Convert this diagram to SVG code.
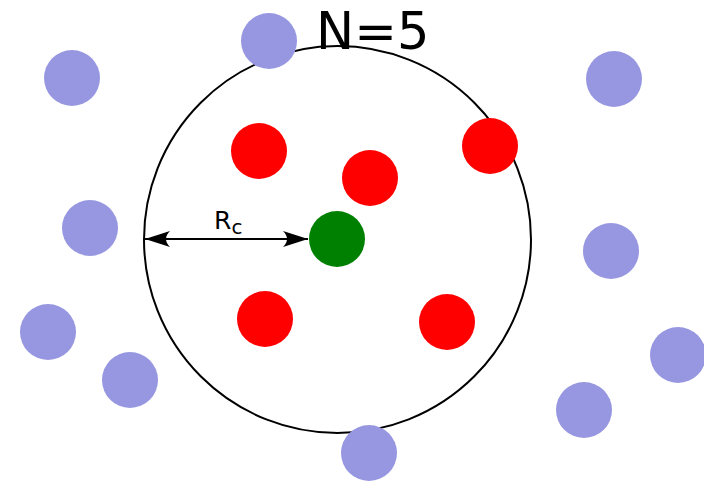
<svg xmlns="http://www.w3.org/2000/svg" width="704" height="481" viewBox="0 0 704 481">
<style>
.b{fill:#9797e1}
.r{fill:#ff0000}
.g{fill:#008000}
text{font-family:"DejaVu Sans",sans-serif;fill:#000}
</style>
<defs>
<marker id="ah" viewBox="-27 -9 29 18" refX="0" refY="0" markerWidth="29" markerHeight="18" markerUnits="userSpaceOnUse" orient="auto-start-reverse">
<path d="M0,0 L-25,-8 Q-17,0 -25,8 Z" fill="#000"/>
</marker>
</defs>
<rect width="704" height="481" fill="#fff"/>
<g id="boundary"><circle cx="337.5" cy="239.5" r="193.5" fill="none" stroke="#000" stroke-width="2"/></g>
<g id="connectors">
<line x1="145" y1="239" x2="308" y2="239" stroke="#000" stroke-width="2" marker-start="url(#ah)" marker-end="url(#ah)"/>
</g>
<g id="blue1"><circle class="b" cx="72" cy="78" r="28"/></g>
<g id="blue2"><circle class="b" cx="269" cy="41" r="28"/></g>
<g id="blue3"><circle class="b" cx="614" cy="79" r="28"/></g>
<g id="blue4"><circle class="b" cx="90" cy="228" r="28"/></g>
<g id="blue5"><circle class="b" cx="611" cy="251" r="28"/></g>
<g id="blue6"><circle class="b" cx="48" cy="332" r="28"/></g>
<g id="blue7"><circle class="b" cx="130" cy="380" r="28"/></g>
<g id="blue8"><circle class="b" cx="678" cy="355" r="28"/></g>
<g id="blue9"><circle class="b" cx="584" cy="410" r="28"/></g>
<g id="blue10"><circle class="b" cx="369" cy="453" r="28"/></g>
<g id="red1"><circle class="r" cx="259" cy="151" r="28"/></g>
<g id="red2"><circle class="r" cx="370" cy="178" r="28"/></g>
<g id="red3"><circle class="r" cx="490" cy="146" r="28"/></g>
<g id="red4"><circle class="r" cx="265" cy="319" r="28"/></g>
<g id="red5"><circle class="r" cx="447" cy="322" r="28"/></g>
<g id="center"><circle class="g" cx="337" cy="239" r="28"/></g>
<g id="label-rc"><text x="214" y="229" font-size="25">R<tspan font-size="20" dy="5">c</tspan></text></g>
<g id="title"><text x="316" y="49" font-size="51">N=5</text></g>
</svg>
